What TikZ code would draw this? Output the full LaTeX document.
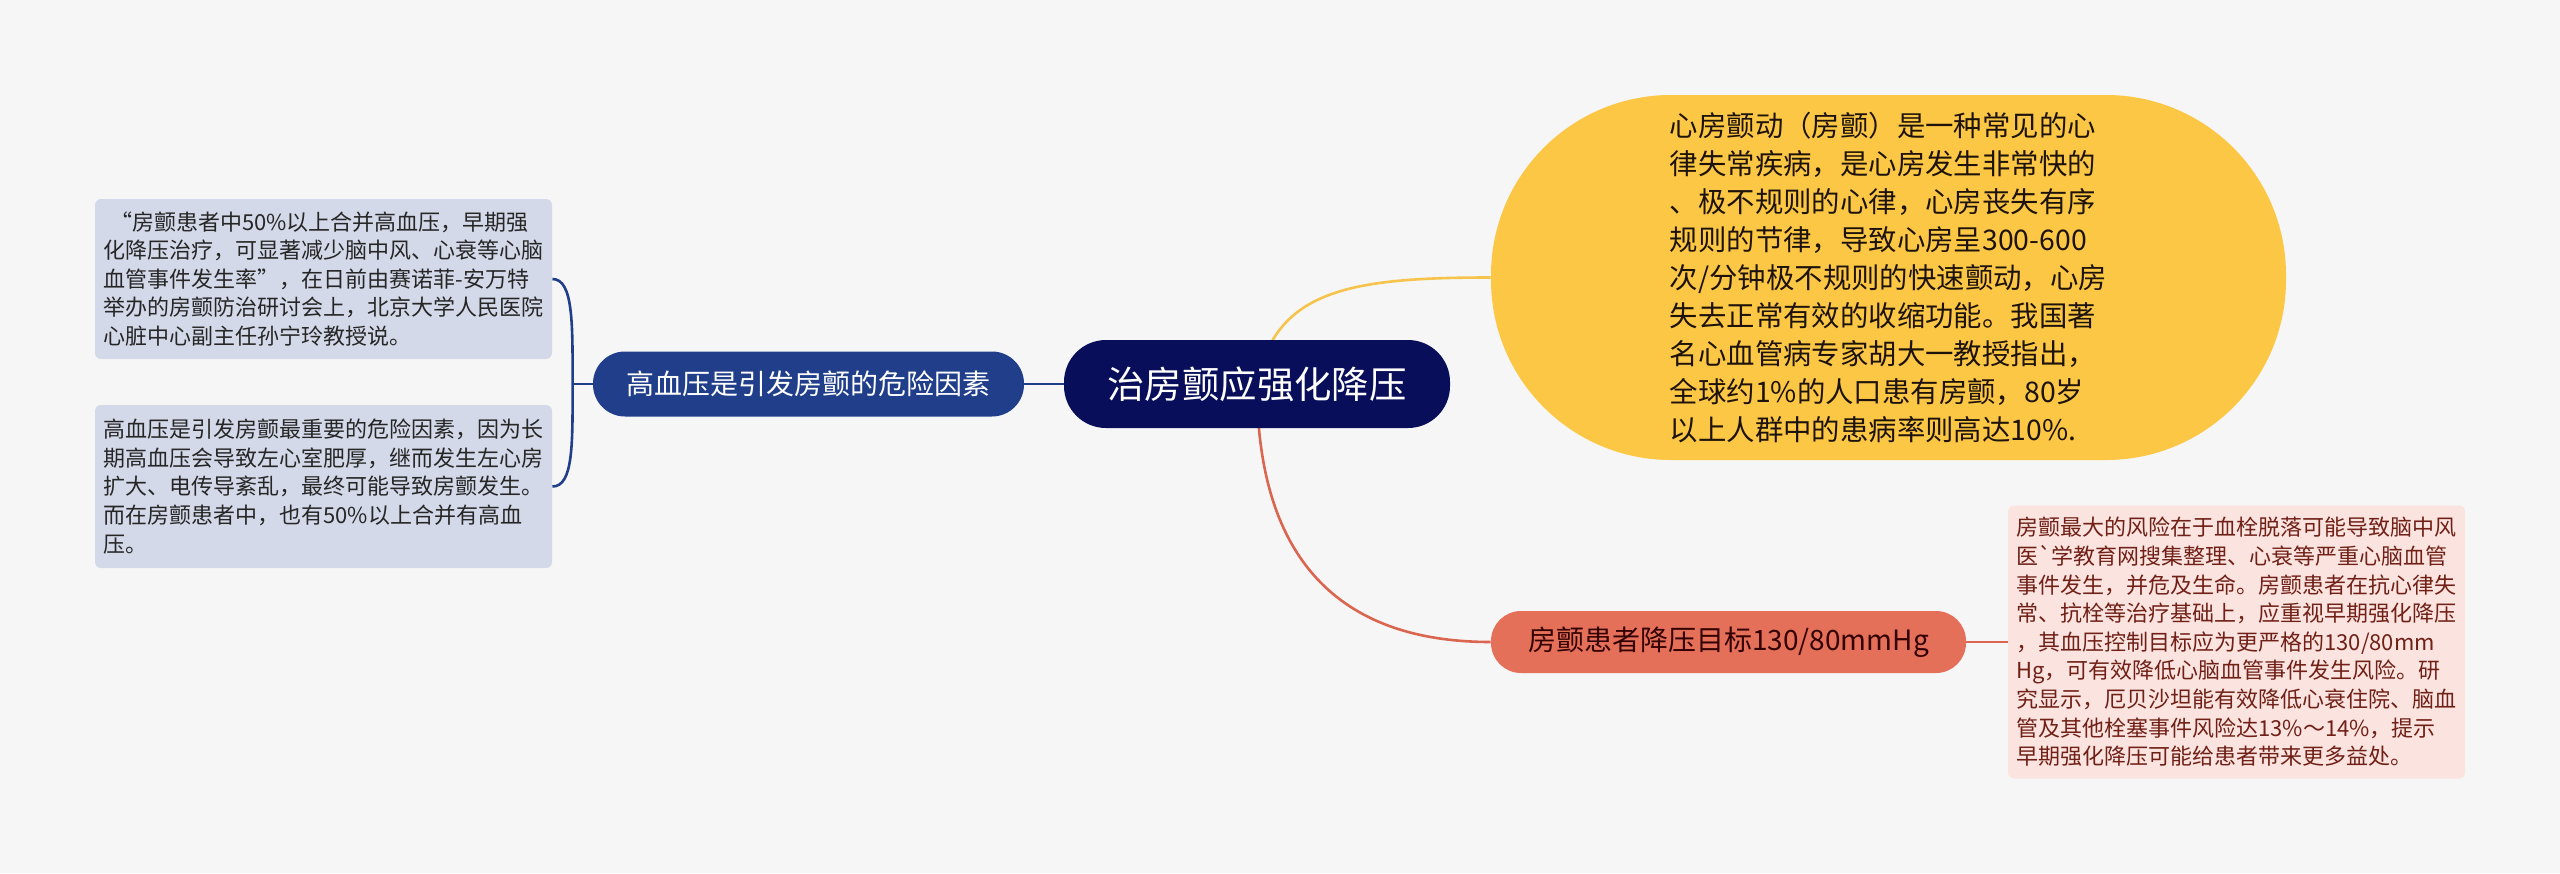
\documentclass[tikz,border=0pt]{standalone}
\usepackage{fontspec}
\newfontfamily\cjk{Noto Sans CJK SC}
\usepackage{tikz}
\usetikzlibrary{backgrounds}
\definecolor{paper}{RGB}{246,246,246}
\definecolor{hubblue}{RGB}{8,14,90}
\definecolor{navy}{RGB}{32,62,138}
\definecolor{leaffill}{RGB}{211,217,232}
\definecolor{gold}{RGB}{253,199,70}
\definecolor{goldline}{RGB}{246,196,76}
\definecolor{coral}{RGB}{229,112,90}
\definecolor{coralline}{RGB}{218,102,80}
\definecolor{blush}{RGB}{251,228,224}
\definecolor{rust}{RGB}{112,32,22}

\begin{document}
\begin{tikzpicture}[x=0.5pt,y=-0.5pt,
  leaf/.style={fill=leaffill,rounded corners=3pt,inner sep=0pt,align=left,
    minimum width=228.5pt,text=black!85,font=\cjk\fontsize{11}{14.3}\selectfont},
  pill/.style={inner sep=0pt,font=\cjk\fontsize{14}{17}\selectfont},
  wire/.style={line width=1.3pt}]
  \useasboundingbox (0,0) rectangle (2560,873);

  \node[pill,fill=hubblue,text=white,rounded corners=21pt,minimum width=193pt,
    minimum height=44pt,font=\cjk\fontsize{18.7}{22}\selectfont] (hub) at (1257,384) {治房颤应强化降压};
  \node[pill,fill=navy,text=white,rounded corners=16pt,minimum width=215.5pt,
    minimum height=32.5pt] (risk) at (808.5,384) {高血压是引发房颤的危险因素};

  \node[leaf,minimum height=80pt] (quote) at (323.5,279) {%
    \hspace{0.3em}“房颤患者中50\%以上合并高血压，早期强\\
    化降压治疗，可显著减少脑中风、心衰等心脑\\
    血管事件发生率”，在日前由赛诺菲-安万特\\
    举办的房颤防治研讨会上，北京大学人民医院\\
    心脏中心副主任孙宁玲教授说。};
  \node[leaf,minimum height=81.5pt] (cause) at (323.5,486.5) {%
    高血压是引发房颤最重要的危险因素，因为长\\
    期高血压会导致左心室肥厚，继而发生左心房\\
    扩大、电传导紊乱，最终可能导致房颤发生。\\
    而在房颤患者中，也有50\%以上合并有高血\\
    压。};

  \node[fill=gold,rounded corners=90pt,inner sep=0pt,minimum width=397.5pt,
    minimum height=182.5pt,align=left,text=black!85!brown,
    font=\cjk\fontsize{14.2}{19}\selectfont] (intro) at (1888.5,277.5) {%
    心房颤动（房颤）是一种常见的心\\
    律失常疾病，是心房发生非常快的\\
    、极不规则的心律，心房丧失有序\\
    规则的节律，导致心房呈300-600\\
    次/分钟极不规则的快速颤动，心房\\
    失去正常有效的收缩功能。我国著\\
    名心血管病专家胡大一教授指出，\\
    全球约1\%的人口患有房颤，80岁\\
    以上人群中的患病率则高达10\%.};

  \node[pill,fill=coral,text=black!80!red,rounded corners=15pt,minimum width=237.5pt,
    minimum height=31pt] (target) at (1728.5,642) {房颤患者降压目标130/80mmHg};

  \node[leaf,fill=blush,text=rust,minimum height=136.5pt] (detail) at (2236.5,642) {%
    房颤最大的风险在于血栓脱落可能导致脑中风\\
    医`学教育网搜集整理、心衰等严重心脑血管\\
    事件发生，并危及生命。房颤患者在抗心律失\\
    常、抗栓等治疗基础上，应重视早期强化降压\\
    ，其血压控制目标应为更严格的130/80mm\\
    Hg，可有效降低心脑血管事件发生风险。研\\
    究显示，厄贝沙坦能有效降低心衰住院、脑血\\
    管及其他栓塞事件风险达13\%～14\%，提示\\
    早期强化降压可能给患者带来更多益处。};

  \begin{pgfonlayer}{background}
    \fill[paper] (0,0) rectangle (2560,873);
    % left branch
    \draw[wire,navy] (hub.west) -- (risk.east);
    \draw[wire,navy] (risk.west) -- ++(-20,0) coordinate (fork);
    \draw[wire,navy] (quote.east) .. controls +(21,0) and +(0,-60) .. (fork)
      .. controls +(0,60) and +(21,0) .. (cause.east);
    % right branches
    \draw[wire,goldline] (hub.center) .. controls +(18,-94) and +(-141,0) .. (intro.west);
    \draw[wire,coralline] (hub.center) .. controls +(0,196) and +(-131,0) .. (target.west);
    \draw[wire,coralline] (target.east) -- (detail.west);
  \end{pgfonlayer}
\end{tikzpicture}
\end{document}
